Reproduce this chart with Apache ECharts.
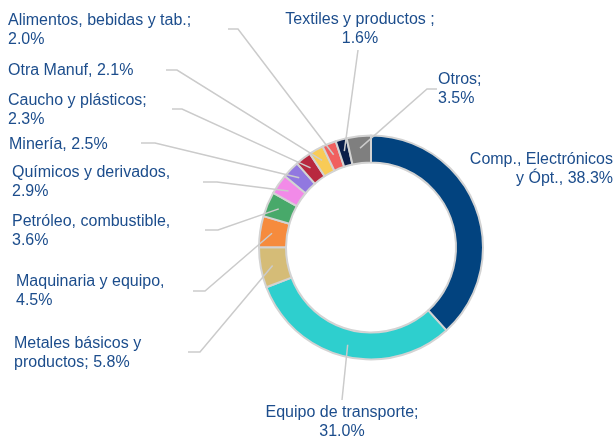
<!DOCTYPE html>
<html>
<head>
<meta charset="utf-8">
<script src="https://cdn.jsdelivr.net/npm/echarts@6/dist/echarts.min.js"></script>
<style>
  html, body { margin: 0; padding: 0; background: #ffffff; }
  #chart { width: 615px; height: 440px; }
</style>
</head>
<body>
<div id="chart"></div>
<script>
// Sector names as printed (line breaks included), clockwise from 12 o'clock
const sectors = [
  'Comp., Electrónicos\ny Ópt., ',
  'Equipo de transporte;\n',
  'Metales básicos y\nproductos; ',
  'Maquinaria y equipo,\n',
  'Petróleo, combustible,\n',
  'Químicos y derivados,\n',
  'Minería, ',
  'Caucho y plásticos;\n',
  'Otra Manuf, ',
  'Alimentos, bebidas y tab.;\n',
  'Textiles y productos ;\n',
  'Otros;\n'
];

// Share of each sector, %
const shares = [38.3, 31.0, 5.8, 4.5, 3.6, 2.9, 2.5, 2.3, 2.1, 2.0, 1.6, 3.5];

const colors = [
  '#02437f', '#2ecfce', '#d5bc77', '#f68b3d', '#48a96a', '#f28ae8',
  '#9178e0', '#b8283f', '#f8cb57', '#f0605f', '#0b1f4a', '#7f7f7f'
];

// Donut geometry (px)
const CX = 371, CY = 247.5, R_IN = 85, R_OUT = 112, R_LINE = 100;

// Label anchor points: [x, y, align, elbow, end] — elbow/end of the leader line
const labelPlaces = [
  [613, 169, 'right', null, null],
  [342, 422, 'center', [342, 400], [342, 400]],
  [14, 353, 'left', [200, 352], [188, 352]],
  [16, 291, 'left', [205, 291], [193, 291]],
  [12, 231, 'left', [218, 230], [205, 230]],
  [12, 182, 'left', [217, 182], [203, 182]],
  [9, 144.5, 'left', [155, 143], [141, 143]],
  [8, 110, 'left', [182, 109], [172, 109]],
  [8, 70.5, 'left', [177, 70], [166, 70]],
  [8, 30, 'left', [238, 29], [228, 29]],
  [360, 29, 'center', [358, 50], [358, 50]],
  [438, 89, 'left', [427, 89], [437, 89]]
];

const chart = echarts.init(document.getElementById('chart'), null, { renderer: 'canvas' });

const ringData = sectors.map((name, i) => ({
  name: name,
  value: shares[i],
  itemStyle: { color: colors[i] }
}));

// Same sectors again, invisible, carrying the labels and leader lines on top of the ring
const labelData = sectors.map((name, i) => ({
  name: name,
  value: shares[i],
  labelLine: { show: labelPlaces[i][3] !== null }
}));

const common = {
  type: 'pie',
  center: [CX, CY],
  radius: [R_IN, R_OUT],
  startAngle: 90,
  clockwise: true,
  avoidLabelOverlap: false,
  minShowLabelAngle: 0,
  emphasis: { disabled: true },
  silent: true
};

chart.setOption({
  backgroundColor: '#ffffff',
  animation: false,
  series: [
    Object.assign({}, common, {
      z: 1,
      itemStyle: { borderColor: '#d3d3d3', borderWidth: 2 },
      label: { show: false },
      labelLine: { show: false },
      data: ringData
    }),
    Object.assign({}, common, {
      z: 3,
      itemStyle: { color: 'rgba(0,0,0,0)', borderWidth: 0 },
      label: {
        show: true,
        position: 'outside',
        formatter: p => p.name + p.value.toFixed(1) + '%',
        fontFamily: 'Liberation Sans, Arial, sans-serif',
        fontSize: 16,
        lineHeight: 19,
        color: '#1c4d8c'
      },
      labelLine: {
        show: true,
        length: 10,
        length2: 10,
        lineStyle: { color: '#cbcbcb', width: 1.5 }
      },
      labelLayout: function (params) {
        const place = labelPlaces[params.dataIndex];
        const out = {
          x: place[0],
          y: place[1],
          align: place[2],
          verticalAlign: 'middle'
        };
        const pts = params.labelLinePoints;
        if (pts && place[3]) {
          // start the leader inside the ring, along the sector's mid-angle
          const k = R_LINE / R_OUT;
          const sx = CX + (pts[0][0] - CX) * k;
          const sy = CY + (pts[0][1] - CY) * k;
          out.labelLinePoints = [[sx, sy], place[3], place[4]];
        }
        return out;
      },
      data: labelData
    })
  ]
});
</script>
</body>
</html>
